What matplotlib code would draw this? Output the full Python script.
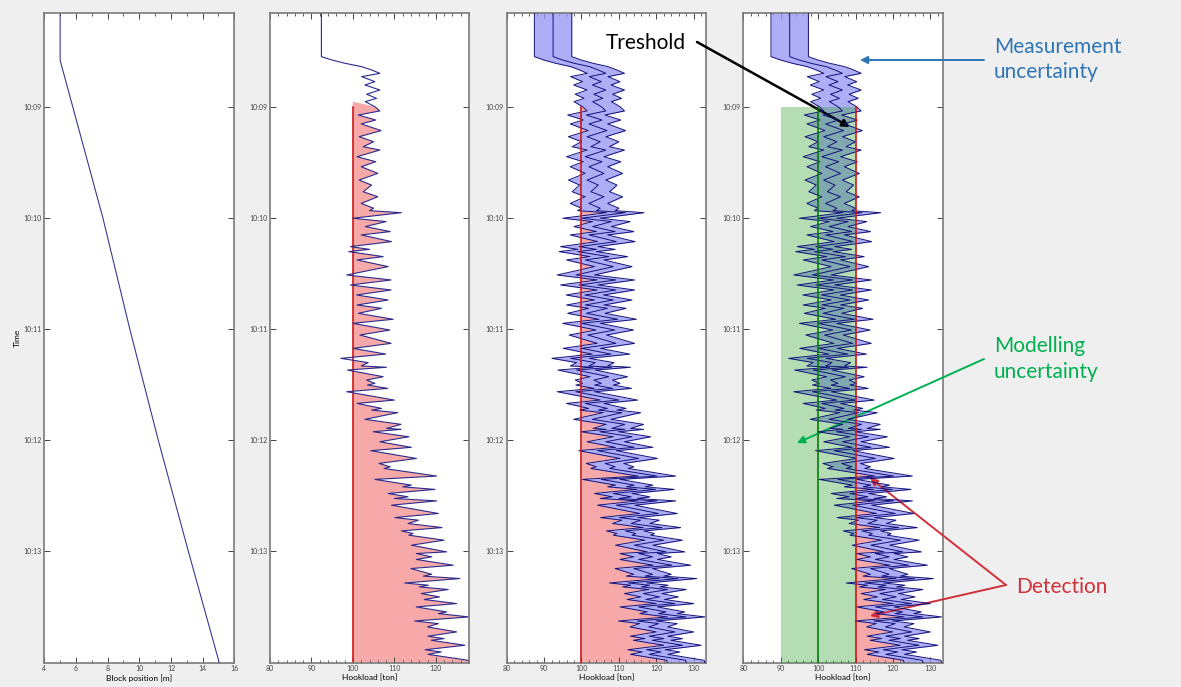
import matplotlib.pyplot as plt
import numpy as np
from matplotlib.ticker import MultipleLocator, FixedLocator, FuncFormatter

plt.rcParams['font.family'] = ['Lato', 'DejaVu Sans']

########## DATA (time in seconds after 10:08:00) ##########
block_t = [9, 35, 120, 180, 240, 300, 360]
block_pos = [5.0, 5.0, 7.7, 9.4, 11.2, 13.1, 15.05]

hook_t = [9, 33.0, 34.8, 36.6, 38.4, 40.2, 42.0, 43.8, 46.5, 48.3, 51.0, 53.3, 55.5, 57.3, 60.0,
          62.3, 64.5, 67.2, 69.3, 72.9, 76.2, 78.9, 81.6, 83.4, 87.0, 89.7, 92.4, 96.0, 99.6, 102.3,
          105.9, 108.6, 112.2, 114.8, 116.1, 117.2,
          120.2, 122.0, 124.7, 127.4, 129.2, 132.8, 135.5, 137.0, 138.2, 140.9, 142.7, 146.3, 150.8,
          153.5, 156.2, 158.9, 161.6, 164.3, 167.0, 168.8, 171.5, 174.7, 176.9, 180.5,
          183.2, 187.7, 190.4, 193.5, 195.8, 198.1, 199.9, 200.6, 202.1, 205.7,
          207.5, 209.3, 210.2, 212.0, 213.8, 218.3, 220.1, 222.8, 223.7, 225.1,
          228.7, 231.4, 233.6, 234.1, 235.4, 238.1, 240.8, 243.8, 245.6, 249.8,
          252.5, 254.3, 255.2, 259.3, 261.1, 264.2, 265.1, 266.5, 268.7, 270.5,
          271.4, 272.7, 275.0, 279.5, 281.7, 283.1, 284.9, 287.1, 288.9, 290.3,
          291.2, 293.9, 296.6, 300.2, 301.1, 302.9, 304.3, 307.4, 309.2, 312.3,
          313.3, 314.6, 317.0, 318.2, 319.1, 320.5, 322.7, 324.5, 325.9, 328.1,
          329.9, 332.6, 333.5, 335.3, 337.5, 338.9, 340.7, 343.4, 345.7, 347.0,
          347.9, 350.6, 353.0, 354.2, 355.5, 358.7, 360]
hook_load = [92.4, 92.4, 94.9, 98.1, 102.1, 104.5, 106.5, 102.1, 105.3, 102.9, 106.5, 103.3, 105.7, 103.0, 105.3,
             106.5, 101.3, 105.5, 102.0, 106.8, 101.5, 105.0, 102.5, 106.5, 101.0, 105.5, 102.0, 106.0, 101.5, 104.5,
             102.5, 106.0, 102.0, 105.0, 104.0, 111.7,
             100.0, 108.0, 103.0, 109.0, 102.0, 109.3, 99.4, 104.0, 99.0, 107.3, 101.0, 108.5, 98.5,
             109.2, 99.4, 109.2, 100.9, 108.5, 101.0, 106.9, 101.3, 109.7, 100.0, 108.9,
             101.7, 109.2, 100.1, 107.9, 97.1, 103.7, 102.0, 108.1, 98.7, 107.3,
             103.3, 105.3, 103.5, 108.4, 98.5, 110.0, 101.0, 106.9, 104.5, 110.8,
             102.9, 111.6, 108.1, 111.6, 104.9, 113.5, 106.5, 114.1, 104.3, 115.3,
             106.3, 109.0, 107.5, 120.2, 105.3, 114.1, 112.0, 119.8, 108.5, 113.3,
             110.0, 120.2, 109.3, 120.6, 110.1, 115.8, 113.3, 121.5, 111.7, 114.5,
             113.5, 122.0, 114.1, 122.6, 115.3, 119.0, 115.3, 124.2, 114.0, 119.0,
             117.0, 125.8, 112.5, 118.2, 116.0, 123.0, 116.5, 120.9, 117.2, 125.0,
             115.3, 122.6, 120.6, 128.0, 114.9, 120.6, 118.0, 125.0, 118.1, 122.0,
             118.9, 127.0, 117.4, 121.3, 118.1, 127.8, 128.0]

time_ticks = [60, 120, 180, 240, 300]
time_labels = ['10:09', '10:10', '10:11', '10:12', '10:13']

meas_unc = 5.0            # +/- ton band
threshold = 100.0         # panels 2 and 3
model_lo, model_mid, model_hi = 90.0, 100.0, 110.0
t_start = 60.0            # 10:09

t = np.array(hook_t)
hl = np.array(hook_load)
lo = hl - meas_unc
hi = hl + meas_unc

########## FIGURE ##########
W, H = 1181, 687
fig = plt.figure(figsize=(W / 100, H / 100), dpi=100, facecolor='#efefef')

def ax_rect(l, r, top=12.7, bot=662.7):
    return [l / W, 1 - bot / H, (r - l) / W, (bot - top) / H]

ax1 = fig.add_axes(ax_rect(44.3, 234.3))
ax2 = fig.add_axes(ax_rect(270, 469))
ax3 = fig.add_axes(ax_rect(506.7, 706))
ax4 = fig.add_axes(ax_rect(743.3, 942.7))

line_c = '#2b2b8c'
band_c = '#9a9af5'
edge_c = '#12127a'
red_fill = '#f7a8a8'
red_line = '#d01818'

# panel 1
ax1.plot(block_pos, block_t, color='#3a3a90', lw=0.8)
ax1.set_xlim(4, 16)
ax1.xaxis.set_major_locator(MultipleLocator(2))
ax1.xaxis.set_minor_locator(MultipleLocator(1))
ax1.set_xlabel('Block position [m]', fontsize=6, labelpad=1)
ax1.set_ylabel('Time', fontsize=6, labelpad=2)

# panel 2
ax2.fill_betweenx(t, threshold, hl, where=(t >= t_start) & (hl > threshold),
                  interpolate=True, color=red_fill, lw=0)
ax2.plot([threshold, threshold], [t_start, 360], color=red_line, lw=1.2)
ax2.plot(hl, t, color=line_c, lw=0.8)
ax2.set_xlim(80, 128)

# panels 3 and 4
for ax, thr in [(ax3, threshold), (ax4, model_hi)]:
    ax.fill_betweenx(t, thr, lo, where=(t >= t_start) & (lo > thr),
                     interpolate=True, color=red_fill, lw=0, zorder=1)
    ax.fill_betweenx(t, lo, hi, color=band_c, alpha=0.8, lw=0, zorder=2)
    ax.plot(lo, t, color=edge_c, lw=0.7, zorder=4)
    ax.plot(hi, t, color=edge_c, lw=0.7, zorder=4)
    ax.plot(hl, t, color=edge_c, lw=0.7, zorder=4)
    ax.set_xlim(80, 133.3)

ax3.plot([threshold, threshold], [t_start, 360], color=red_line, lw=1.2, zorder=5)

ax4.fill_betweenx([t_start, 360], model_lo, model_hi, color='#2aa02a', alpha=0.35, lw=0, zorder=3)
ax4.plot([model_mid, model_mid], [t_start, 360], color='#0a7a0a', lw=1.2, zorder=5)
ax4.plot([model_hi, model_hi], [t_start, 360], color=red_line, lw=1.2, zorder=5)

for ax in [ax2, ax3, ax4]:
    ax.xaxis.set_major_locator(MultipleLocator(10))
    ax.xaxis.set_minor_locator(MultipleLocator(2))
    ax.set_xlabel('Hookload [ton]', fontsize=6, labelpad=1)

for ax in [ax1, ax2, ax3, ax4]:
    ax.set_ylim(360, 9.3)
    ax.set_yticks(time_ticks)
    ax.set_yticklabels(time_labels)
    ax.set_facecolor('white')
    for s in ax.spines.values():
        s.set_color('#7a7a7a')
        s.set_linewidth(1.2)
    ax.tick_params(which='both', direction='in', top=True, right=True,
                   labelsize=5, colors='#444444', pad=2)
    ax.tick_params(which='major', length=4, width=0.7)
    ax.tick_params(which='minor', length=2, width=0.6)
    ax.tick_params(axis='y', which='minor', left=False, right=False)

########## ANNOTATIONS (figure pixels from top-left) ##########
def fp(x, y):
    return (x / W, 1 - y / H)

txt = dict(fontsize=15, va='center', ha='left')
fig.text(*fp(606, 43), 'Treshold', color='black', **txt)
fig.text(*fp(994, 47), 'Measurement', color='#2e75b6', **txt)
fig.text(*fp(994, 72), 'uncertainty', color='#2e75b6', **txt)
fig.text(*fp(994, 346), 'Modelling', color='#00b050', **txt)
fig.text(*fp(994, 372), 'uncertainty', color='#00b050', **txt)
fig.text(*fp(1016, 587), 'Detection', color='#d0303a', **txt)

arrows = [((697, 42), (850, 127), 'black', 1.8),
          ((984, 60), (860, 60), '#2e75b6', 1.4),
          ((984, 359), (797, 443), '#00b050', 1.4),
          ((1006, 585), (870, 478), '#d0303a', 1.4),
          ((1006, 585), (870, 616), '#d0303a', 1.4)]
for start, end, c, lw in arrows:
    ax4.annotate('', xy=fp(*end), xytext=fp(*start),
                 xycoords='figure fraction', textcoords='figure fraction',
                 annotation_clip=False,
                 arrowprops=dict(arrowstyle='-|>', color=c, lw=lw,
                                 mutation_scale=11, shrinkA=0, shrinkB=0))

fig.savefig('out.png', dpi=100, facecolor=fig.get_facecolor())
